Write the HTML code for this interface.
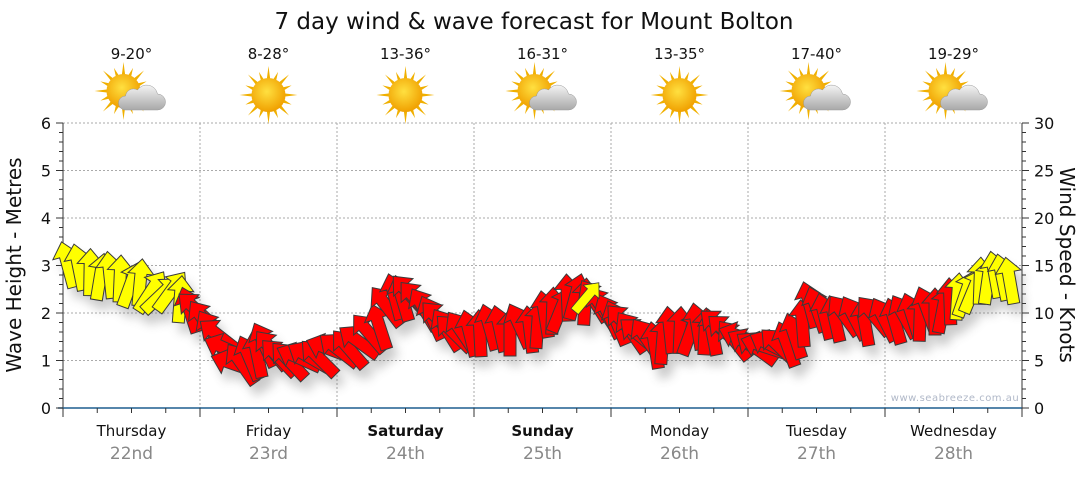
<!DOCTYPE html>
<html><head><meta charset="utf-8"><style>
body{margin:0;background:#fff;font-family:"Liberation Sans","DejaVu Sans",sans-serif}
</style></head><body>
<svg id="s" width="1080" height="475" xmlns="http://www.w3.org/2000/svg" font-family="DejaVu Sans, Liberation Sans, sans-serif">
<defs>
<filter id="sh" x="-50%" y="-50%" width="200%" height="200%"><feGaussianBlur stdDeviation="5"/></filter>
<radialGradient id="sun" cx="0.45" cy="0.4" r="0.6"><stop offset="0" stop-color="#ffe040"/><stop offset="1" stop-color="#f0a000"/></radialGradient>
<linearGradient id="cl" x1="0" y1="0" x2="0" y2="1"><stop offset="0" stop-color="#f4f4f4"/><stop offset="1" stop-color="#a8a8a8"/></linearGradient>
</defs>
<text x="534" y="29" font-size="23" text-anchor="middle" fill="#111">7 day wind &amp; wave forecast for Mount Bolton</text>
<g id="grid" stroke="#aaa" stroke-dasharray="2,2" stroke-width="1"></g>
<g id="axes"></g>
<g id="shadow" filter="url(#sh)" opacity="0.3"></g>
<g id="arrows" stroke="#3a3a3a" stroke-width="1" stroke-linejoin="miter"></g>
<g id="icons"></g>
<text x="955" y="401" font-size="10" fill="#b0b8c8" text-anchor="middle" letter-spacing="0.5">www.seabreeze.com.au</text>
<text transform="translate(21,265) rotate(-90)" font-size="20" text-anchor="middle" fill="#111">Wave Height - Metres</text>
<text transform="translate(1060,265) rotate(90)" font-size="20" text-anchor="middle" fill="#111">Wind Speed - Knots</text>
</svg>
<script>
const S="http://www.w3.org/2000/svg";
function el(p,t,a,txt){const e=document.createElementNS(S,t);for(const k in a)e.setAttribute(k,a[k]);if(txt!=null)e.textContent=txt;document.getElementById(p).appendChild(e);return e;}
const X0=63,X1=1022,Y0=408,Y6=123,dw=(X1-X0)/7;
for(let i=1;i<7;i++){const x=X0+dw*i;el('grid','line',{x1:x,y1:Y6,x2:x,y2:Y0});}
for(let m=1;m<=6;m++){const y=Y0-m*(Y0-Y6)/6;el('grid','line',{x1:X0,y1:y,x2:X1,y2:y});}
el('axes','line',{x1:X0,y1:Y6,x2:X0,y2:Y0,stroke:'#333'});
el('axes','line',{x1:X1,y1:Y6,x2:X1,y2:Y0,stroke:'#333'});
el('axes','line',{x1:X0-5,y1:Y0,x2:X1,y2:Y0,stroke:'#1f5f8f','stroke-width':1.5});
for(let i=0;i<=30;i++){const y=Y0-i*(Y0-Y6)/30;const maj=i%5==0;
 el('axes','line',{x1:X0-(maj?7:4),y1:y,x2:X0,y2:y,stroke:'#333'});
 el('axes','line',{x1:X1,y1:y,x2:X1+(maj?7:4),y2:y,stroke:'#333'});
 if(maj){el('axes','text',{x:X0-12,y:y+6,'font-size':16,'text-anchor':'end',fill:'#111'},i/5);
  el('axes','text',{x:X1+12,y:y+6,'font-size':16,fill:'#111'},i);}}
for(let i=0;i<=28;i++){const x=X0+i*dw/4;el('axes','line',{x1:x,y1:Y0,x2:x,y2:Y0+(i%4==0?9:5),stroke:'#333'});}
const days=['Thursday','Friday','Saturday','Sunday','Monday','Tuesday','Wednesday'];
const dates=['22nd','23rd','24th','25th','26th','27th','28th'];
const temps=['9-20°','8-28°','13-36°','16-31°','13-35°','17-40°','19-29°'];
const cloudy=[1,0,0,1,0,1,1];
for(let i=0;i<7;i++){const cx=X0+dw*(i+0.5);
 el('axes','text',{x:cx,y:436,'font-size':15,'text-anchor':'middle',fill:'#111','font-weight':(i==2||i==3)?'bold':'normal'},days[i]);
 el('axes','text',{x:cx,y:459,'font-size':17,'text-anchor':'middle',fill:'#888'},dates[i]);
 el('axes','text',{x:cx,y:59,'font-size':15,'text-anchor':'middle',fill:'#111'},temps[i]);
 const sx=cloudy[i]?cx-8:cx, sy=cloudy[i]?91:95;
 const g=el('icons','g',{});
 for(let k=0;k<16;k++){const a=k*Math.PI/8,L=k%2?25:29;
  const r=document.createElementNS(S,'polygon');
  const px=sx+Math.cos(a)*L,py=sy+Math.sin(a)*L,b1=a+0.12,b2=a-0.12;
  r.setAttribute('points',`${px},${py} ${sx+Math.cos(b1)*15},${sy+Math.sin(b1)*15} ${sx+Math.cos(b2)*15},${sy+Math.sin(b2)*15}`);
  r.setAttribute('fill','#f0b000');g.appendChild(r);}
 const c=document.createElementNS(S,'circle');c.setAttribute('cx',sx);c.setAttribute('cy',sy);c.setAttribute('r',17);c.setAttribute('fill','url(#sun)');g.appendChild(c);
 if(cloudy[i]){const p=document.createElementNS(S,'path');const x=cx,y=100;
  p.setAttribute('d',`M${x-6},${y+10} h32 a8,8 0 0 0 0,-16 a11,11 0 0 0 -20,-4 a8,8 0 0 0 -12,6 a7,7 0 0 0 0,14 z`);
  p.setAttribute('fill','url(#cl)');p.setAttribute('stroke','#999');p.setAttribute('stroke-width','0.5');g.appendChild(p);}
}
const P=[[68,270,0],[90,272,-5],[110,278,0],[130,282,5],[150,292,30],[170,295,45],[190,308,-30],[205,322,-35],[220,340,-40],[235,362,-80],[250,360,-20],[265,350,-10],[280,357,-50],[300,360,-60],[320,355,-60],[340,350,-55],[360,345,-45],[380,325,-30],[395,298,-15],[410,298,-30],[425,308,-40],[440,322,-40],[455,338,-30],[470,333,-20],[490,330,-10],[510,330,-15],[530,330,-10],[545,318,0],[560,308,10],[575,298,15],[595,305,-20],[610,315,-35],[625,325,-40],[640,340,-35],[655,345,-15],[670,333,0],[690,330,5],[705,332,0],[720,330,-40],[735,338,-50],[750,345,-60],[765,350,-60],[780,345,-55],[795,338,-15],[810,310,0],[825,316,-20],[845,318,-30],[865,320,-25],[885,320,-30],[905,320,-20],[920,316,-10],[935,313,0],[950,306,10],[965,293,10],[980,283,5],[995,280,5],[1010,282,-10]];
const yel=x=>x<186||x>957;
function pt(a,b,t){return a+(b-a)*t;}
const arr=[];
for(let i=0;i<P.length-1;i++){const a=P[i],b=P[i+1];const n=Math.max(1,Math.round((b[0]-a[0])/9));
 for(let k=0;k<n;k++){const t=k/n;const j=((i*7+k*13)%11-5);arr.push([pt(a[0],b[0],t),pt(a[1],b[1],t)+j*0.8,pt(a[2],b[2],t)+j*3]);}}
arr.push(P[P.length-1]);
const shape="0,-25 13,-10 6,-10 6,22 -6,22 -6,-10 -13,-10";
arr.forEach(p=>{el('shadow','polygon',{points:shape,fill:'#555',transform:`translate(${p[0]+6},${p[1]+10}) rotate(${p[2]})`});});
arr.forEach(p=>{el('arrows','polygon',{points:shape,fill:yel(p[0])?'#ffff00':'#ff0000',transform:`translate(${p[0]},${p[1]}) rotate(${p[2]})`});});
el('arrows','polygon',{points:shape,fill:'#ffff00',transform:`translate(586,298) rotate(40) scale(0.8)`});
</script>
</body></html>
